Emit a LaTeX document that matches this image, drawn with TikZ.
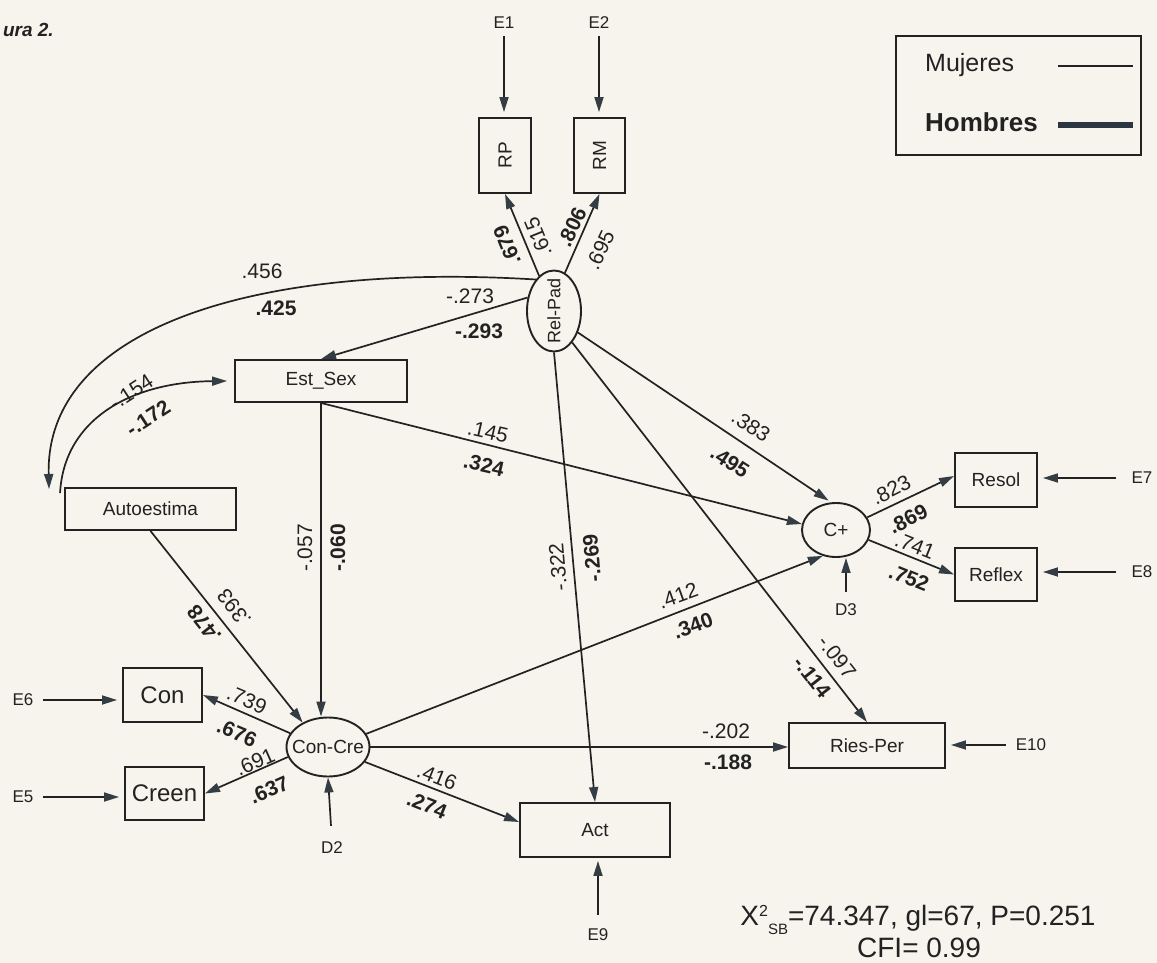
\documentclass[tikz,border=0pt]{standalone}
\usepackage{fontspec}
\setmainfont{Liberation Sans}
\usetikzlibrary{arrows.meta,calc,shapes.geometric}
\definecolor{paper}{RGB}{246,244,236}
\definecolor{ink}{RGB}{34,34,34}
\definecolor{tipc}{RGB}{52,60,68}
\definecolor{heavy}{RGB}{44,54,64}
\tikzset{
  vbox/.style={draw=ink, line width=1.9pt, inner sep=0pt, text=ink, font=\fontsize{19}{19}\selectfont},
  lat/.style={ellipse, draw=ink, line width=1.9pt, inner sep=0pt},
  lattxt/.style={text=ink, inner sep=0pt, font=\fontsize{19}{19}\selectfont},
  pth/.style={draw=ink, line width=1.7pt, -{Triangle[length=15pt,width=9pt,color=tipc]}},
  lbl/.style={text=ink, inner sep=0pt, font=\fontsize{21}{21}\selectfont},
  blbl/.style={text=ink, inner sep=0pt, font=\bfseries\fontsize{21}{21}\selectfont},
  etxt/.style={text=ink, inner sep=0pt, font=\fontsize{17}{17}\selectfont},
}
\begin{document}
\begin{tikzpicture}[x=1pt,y=-1pt]
\fill[paper] (0,0) rectangle (1157,963);
\useasboundingbox (0,0) rectangle (1157,963);

% caption fragment
\node[anchor=base east, inner sep=0pt, text=ink, font=\bfseries\itshape\fontsize{19}{19}\selectfont] (fig) at (54,37) {ura 2.};

% legend
\node[draw=ink, line width=1.9pt, minimum width=245pt, minimum height=119pt, inner sep=0pt] (leg) at (1018.5,95.5) {};
\node[anchor=base west, text=ink, inner sep=0pt, font=\fontsize{25}{25}\selectfont] (muj) at (925,72) {Mujeres};
\node[anchor=base west, text=ink, inner sep=0pt, font=\bfseries\fontsize{26}{26}\selectfont] (hom) at (925,132) {Hombres};
\draw[ink, line width=2pt] (1058,66) -- (1133,66);
\draw[heavy, line width=6.5pt] (1058,125) -- (1133,125);

% observed variables
\node[vbox, minimum width=52pt, minimum height=75pt] (rp) at (505,155.5) {\rotatebox{90}{RP}};
\node[vbox, minimum width=51pt, minimum height=75pt] (rm) at (599.5,155.5) {\rotatebox{90}{RM}};
\node[vbox, minimum width=172pt, minimum height=42pt] (est) at (321,381) {Est\_Sex};
\node[vbox, minimum width=171pt, minimum height=42pt] (auto) at (150.5,509) {Autoestima};
\node[vbox, minimum width=79pt, minimum height=54pt, font=\fontsize{24}{24}\selectfont] (con) at (162.5,695) {Con};
\node[vbox, minimum width=79pt, minimum height=53pt, font=\fontsize{24}{24}\selectfont] (creen) at (164.5,793.5) {Creen};
\node[vbox, minimum width=150pt, minimum height=54pt] (act) at (595,830) {Act};
\node[vbox, minimum width=156pt, minimum height=45pt] (ries) at (867,745.5) {Ries-Per};
\node[vbox, minimum width=82pt, minimum height=54pt] (resol) at (996,480) {Resol};
\node[vbox, minimum width=82pt, minimum height=53pt] (reflex) at (996,574.5) {Reflex};

% latent variables
\node[lat, minimum width=54pt, minimum height=81pt] (relpad) at (554,311) {};
\node[lattxt, rotate=90, font=\fontsize{18}{18}\selectfont] (relpadt) at (relpad.center) {Rel-Pad};
\node[lat, minimum width=83pt, minimum height=59pt] (concre) at (328,747) {};
\node[lattxt] (concret) at (concre.center) {Con-Cre};
\node[lat, minimum width=68pt, minimum height=54pt] (cplus) at (836,530) {};
\node[lattxt] (cplust) at (cplus.center) {C+};

% error / disturbance labels
\node[etxt] (e1) at (504,23) {E1};
\node[etxt] (e2) at (599,23) {E2};
\node[etxt] (e6) at (23,700) {E6};
\node[etxt] (e5) at (23,797) {E5};
\node[etxt] (d2) at (332,848) {D2};
\node[etxt] (e9) at (598,935) {E9};
\node[etxt] (d3) at (846,610) {D3};
\node[etxt] (e7) at (1142,478) {E7};
\node[etxt] (e8) at (1142,572) {E8};
\node[etxt] (e10) at (1031,745) {E10};

% error arrows
\draw[pth, shorten <=7pt, shorten >=5pt] (e1.south) -- (e1.south |- rp.north);
\draw[pth, shorten <=7pt, shorten >=5pt] (e2.south) -- (e2.south |- rm.north);
\draw[pth, shorten <=9pt, shorten >=5pt] (e6.east) -- (e6.east -| con.west);
\draw[pth, shorten <=9pt, shorten >=5pt] (e5.east) -- (e5.east -| creen.west);
\draw[pth, shorten <=15pt, shorten >=5pt] (e7.west) -- (e7.west -| resol.east);
\draw[pth, shorten <=15pt, shorten >=5pt] (e8.west) -- (e8.west -| reflex.east);
\draw[pth, shorten <=10pt, shorten >=5pt] (e10.west) -- (e10.west -| ries.east);
\draw[pth, shorten <=14pt, shorten >=3pt] (e9.north) -- (e9.north |- act.south);
\draw[pth, shorten <=16pt] (d2.north) -- (concre.south);
\draw[pth, shorten <=12pt] (d3.north) -- (d3.north |- cplus.south);

% structural paths
\draw[pth] (relpad.113) -- (rp.south);
\draw[pth] (relpad.74) -- (rm.south);
\draw[pth] (relpad.153) -- (est.north);
\draw[pth] (relpad.120) .. controls (250,262) and (45,330) .. ($(auto.north west)+(-15,2)$);
\draw[pth] ($(auto.north west)+(-4,6)$) .. controls (64,420) and (130,382) .. ($(est.west)+(-7,0)$);
\draw[pth] (auto.south) -- (concre.136);
\draw[pth] (est.south) -- (est.south |- concre.north);
\draw[pth] (est.south) -- (cplus.170);
\draw[pth, shorten >=3pt] (relpad.-42) -- (cplus.100);
\draw[pth] (relpad.-60) -- (ries.north);
\draw[pth] (relpad.south) -- (act.north);
\draw[pth] (concre.160) -- (con.east);
\draw[pth] (concre.194) -- (creen.east);
\draw[pth] (concre.east) -- (concre.east -| ries.west);
\draw[pth] (concre.-22) -- ($(act.west)+(0,-8)$);
\draw[pth] (concre.19) -- (cplus.243);
\draw[pth] (cplus.22) -- ($(resol.west)+(0,-4)$);
\draw[pth] (cplus.-17) -- (reflex.west);

% coefficients
\node[lbl] (l1) at (262,271) {.456};
\node[blbl] (l2) at (276,308) {.425};
\node[lbl, rotate=33] (l3) at (131,392) {-.154};
\node[blbl, rotate=33] (l4) at (148,418) {-.172};
\node[lbl] (l5) at (470,296) {-.273};
\node[blbl] (l6) at (479,331) {-.293};
\node[blbl, rotate=112] (l7) at (507,245) {.679};
\node[lbl, rotate=112] (l8) at (538,237) {.615};
\node[blbl, rotate=65] (l9) at (572,227) {.806};
\node[lbl, rotate=65] (l10) at (600,250) {.695};
\node[lbl, rotate=-13] (l11) at (488,432) {.145};
\node[blbl, rotate=-13] (l12) at (484,465) {.324};
\node[lbl, rotate=90] (l13) at (305,548) {-.057};
\node[blbl, rotate=90] (l14) at (338,548) {-.060};
\node[lbl, rotate=-33] (l15) at (751,426) {.383};
\node[blbl, rotate=-33] (l16) at (730,462) {.495};
\node[lbl, rotate=27] (l17) at (891,490) {.823};
\node[blbl, rotate=27] (l18) at (908,519) {.869};
\node[lbl, rotate=-22] (l19) at (915,546) {.741};
\node[blbl, rotate=-22] (l20) at (909,578) {.752};
\node[lbl, rotate=95] (l21) at (558,567) {-.322};
\node[blbl, rotate=95] (l22) at (592,558) {-.269};
\node[lbl, rotate=20] (l23) at (678,596) {.412};
\node[blbl, rotate=20] (l24) at (693,626) {.340};
\node[lbl, rotate=-52] (l25) at (837,657) {-.097};
\node[blbl, rotate=-52] (l26) at (812,677) {-.114};
\node[lbl] (l27) at (726,731) {-.202};
\node[blbl] (l28) at (728,762) {-.188};
\node[lbl, rotate=-22] (l29) at (437,777) {.416};
\node[blbl, rotate=-22] (l30) at (427,805) {.274};
\node[lbl, rotate=128] (l31) at (234,608) {.393};
\node[blbl, rotate=128] (l32) at (204,624) {.478};
\node[lbl, rotate=-23] (l33) at (247,700) {.739};
\node[blbl, rotate=-23] (l34) at (237,733) {.676};
\node[lbl, rotate=24] (l35) at (255,762) {.691};
\node[blbl, rotate=24] (l36) at (269,790) {.637};

% fit statistics
\node[anchor=base, inner sep=0pt, text=ink, font=\fontsize{28}{28}\selectfont] (chi) at (918,925)
  {X\raisebox{9pt}{\fontsize{16}{16}\selectfont 2}\raisebox{-9pt}{\fontsize{15}{15}\selectfont SB}=74.347, gl=67, P=0.251};
\node[anchor=base, inner sep=0pt, text=ink, font=\fontsize{28}{28}\selectfont] (cfi) at (919,957) {CFI= 0.99};
\end{tikzpicture}
\end{document}
